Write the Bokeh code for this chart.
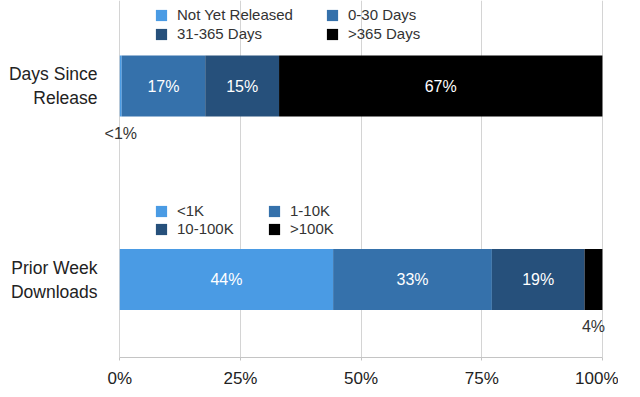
import numpy as np
from bokeh.plotting import figure
from bokeh.models import Range1d, FixedTicker, Legend, LegendItem, ColumnDataSource, LabelSet
from bokeh.core.properties import value
from bokeh.embed import file_html
from bokeh.resources import INLINE

# ---- data ----
categories = ["Days Since Release", "Prior Week Downloads"]
category_ticks = ["Days Since\nRelease", "Prior Week\nDownloads"]

release_labels = ["Not Yet Released", "0-30 Days", "31-365 Days", ">365 Days"]
release_values = [0.4, 17.3, 15.3, 67.0]
release_texts = ["<1%", "17%", "15%", "67%"]

download_labels = ["<1K", "1-10K", "10-100K", ">100K"]
download_values = [44.2, 32.9, 19.2, 3.7]
download_texts = ["44%", "33%", "19%", "4%"]

x_ticks = [0, 25, 50, 75, 100]
x_tick_labels = ["0%", "25%", "50%", "75%", "100%"]

colors = ["#4a9be4", "#3571ab", "#26507b", "#000000"]
FONT = "Liberation Sans"

# category positions (top category first)
ypos = {categories[0]: 1.0, categories[1]: 0.0}
BAR_H = 0.315

# 0..100 spans ~483 px; the frame is a little wider so outside labels are not clipped
PX_PER_UNIT = 4.826
FRAME_W = 518
X0 = -4.0

p = figure(frame_width=FRAME_W, frame_height=357, output_backend="svg", toolbar_location=None,
           x_range=Range1d(X0, X0 + FRAME_W / PX_PER_UNIT), y_range=Range1d(-0.403, 1.442),
           min_border_left=100, min_border_right=0, min_border_top=0, min_border_bottom=0)
p.outline_line_color = None
p.background_fill_color = "white"

def draw(cat, labels, vals, texts, legend_loc, label_w, spacing):
    y = ypos[cat]
    right = np.cumsum(vals)
    left = right - np.array(vals)
    items = []
    for i, lab in enumerate(labels):
        r = p.hbar(y=[y], left=[left[i]], right=[right[i]], height=BAR_H,
                   fill_color=colors[i], line_color=None)
        items.append(LegendItem(label=lab, renderers=[r]))
    inside = [i for i in range(len(vals)) if vals[i] >= 10]
    outside = [i for i in range(len(vals)) if vals[i] < 10]
    src_in = ColumnDataSource(dict(x=[(left[i] + right[i]) / 2 for i in inside],
                                   y=[y] * len(inside), t=[texts[i] for i in inside]))
    p.text(x="x", y="y", text="t", source=src_in, text_color="white",
           text_font=value(FONT), text_font_size="16px",
           text_align="center", text_baseline="middle")
    src_out = ColumnDataSource(dict(x=[(left[i] + right[i]) / 2 for i in outside],
                                    y=[y] * len(outside), t=[texts[i] for i in outside]))
    p.add_layout(LabelSet(x="x", y="y", text="t", source=src_out, text_color="#333333",
                          text_font=value(FONT), text_font_size=value("16px"),
                          text_align="center", text_baseline="middle", y_offset=-47))
    leg = Legend(items=items, location=legend_loc, ncols=2,
                 label_text_font=FONT, label_text_font_size="15px",
                 label_text_color="#333333",
                 glyph_width=14, glyph_height=14, label_standoff=9,
                 label_height=14, label_width=label_w, spacing=spacing, padding=0, margin=0,
                 background_fill_alpha=0, border_line_alpha=0,
                 orientation="horizontal")
    p.add_layout(leg)

draw(categories[0], release_labels, release_values, release_texts, (54, 315), 146, 2)
draw(categories[1], download_labels, download_values, download_texts, (54, 120), 89, 1)

# axes
p.xaxis.ticker = FixedTicker(ticks=x_ticks)
p.xaxis.bounds = (x_ticks[0], x_ticks[-1])
p.xaxis.major_label_overrides = {t: l for t, l in zip(x_ticks, x_tick_labels)}
p.xaxis.major_label_text_font = FONT
p.xaxis.major_label_text_font_size = "17px"
p.xaxis.major_label_text_color = "#222222"
p.xaxis.axis_line_color = "#c4c4c4"
p.xaxis.major_tick_line_color = "#c4c4c4"
p.xaxis.major_tick_out = 3
p.xaxis.major_tick_in = 0
p.xaxis.minor_tick_line_color = None
p.xaxis.major_label_standoff = 8

p.yaxis.ticker = FixedTicker(ticks=[ypos[c] for c in categories])
p.yaxis.major_label_overrides = {ypos[c]: t for c, t in zip(categories, category_ticks)}
p.yaxis.major_label_text_font = FONT
p.yaxis.major_label_text_font_size = "17.5px"
p.yaxis.major_label_text_color = "#222222"
p.yaxis.major_label_text_align = "center"
p.yaxis.axis_line_color = None
p.yaxis.major_tick_line_color = None
p.yaxis.minor_tick_line_color = None
p.yaxis.major_label_standoff = -3

p.xgrid.grid_line_color = "#d4d4d4"
p.xgrid.ticker = FixedTicker(ticks=x_ticks)
p.ygrid.grid_line_color = None

open("out.html", "w").write(file_html(p, INLINE))
